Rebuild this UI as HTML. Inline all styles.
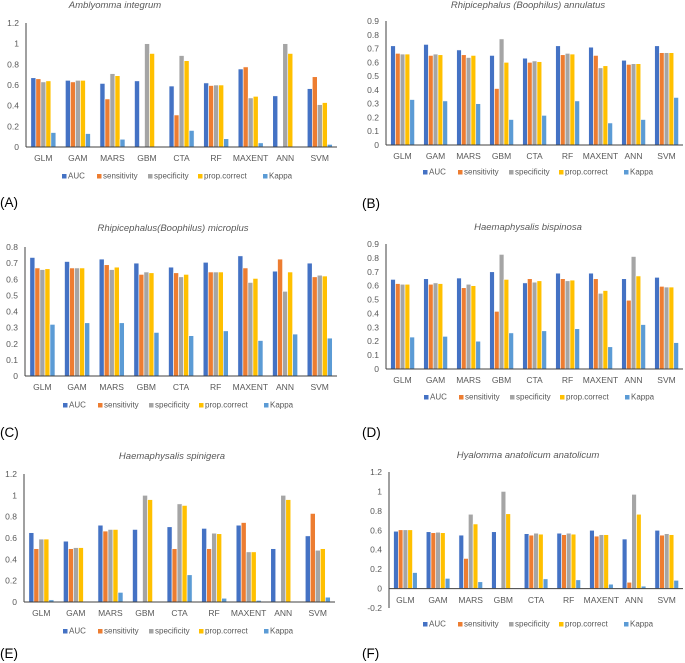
<!DOCTYPE html>
<html><head><meta charset="utf-8"><style>
body{margin:0;background:#fff}
svg{display:block;font-family:"Liberation Sans",sans-serif}
</style></head><body>
<svg id="fig" width="685" height="663" viewBox="0 0 685 663" xmlns="http://www.w3.org/2000/svg"></svg>
<script>
const categories=["GLM","GAM","MARS","GBM","CTA","RF","MAXENT","ANN","SVM"];
const seriesNames=["AUC","sensitivity","specificity","prop.correct","Kappa"];
const seriesColors=["#4472C4","#ED7D31","#A5A5A5","#FFC000","#5B9BD5"];
// values per panel: [AUC, sensitivity, specificity, prop.correct, Kappa] each over categories
const valuesA=[[.67,.645,.615,.64,.59,.62,.755,.495,.565],[.66,.63,.465,0,.31,.595,.775,0,.68],[.63,.645,.71,1,.885,.6,.475,1,.41],[.64,.645,.69,.905,.835,.6,.49,.905,.43],[.14,.13,.075,0,.16,.08,.04,0,.025]];
const valuesB=[[.72,.73,.69,.65,.63,.72,.71,.615,.72],[.665,.65,.655,.41,.6,.655,.65,.585,.67],[.66,.66,.635,.77,.61,.665,.56,.59,.67],[.66,.655,.65,.6,.605,.66,.575,.59,.67],[.33,.32,.3,.185,.215,.32,.16,.185,.345]];
const valuesC=[[.735,.71,.725,.7,.675,.705,.745,.65,.7],[.67,.67,.69,.63,.64,.645,.67,.725,.615],[.66,.67,.66,.645,.615,.645,.58,.525,.625],[.665,.67,.675,.64,.63,.645,.605,.645,.62],[.32,.33,.33,.27,.25,.28,.22,.26,.235]];
const valuesD=[[.645,.65,.655,.7,.62,.69,.69,.65,.66],[.615,.61,.585,.415,.65,.65,.65,.495,.595],[.61,.62,.61,.825,.625,.635,.545,.81,.59],[.61,.615,.6,.645,.635,.64,.565,.67,.59],[.23,.235,.2,.26,.275,.29,.16,.32,.19]];
const valuesE=[[.65,.57,.72,.68,.705,.69,.72,.5,.62],[.5,.5,.665,0,.5,.5,.745,0,.83],[.59,.51,.68,1,.92,.645,.47,1,.485],[.59,.51,.68,.96,.905,.64,.47,.96,.5],[.02,.005,.09,0,.255,.035,.015,0,.045]];
const valuesF=[[.59,.585,.55,.585,.565,.57,.6,.51,.6],[.605,.575,.31,0,.55,.555,.54,.065,.55],[.605,.58,.765,1,.57,.57,.555,.97,.565],[.605,.575,.665,.77,.56,.56,.555,.765,.555],[.165,.105,.07,0,.1,.09,.045,.025,.085]];
const ticksA=[0,0.2,0.4,0.6,0.8,1,1.2];
const ticksB=[0,0.1,0.2,0.3,0.4,0.5,0.6,0.7,0.8,0.9];
const ticksC=[0,0.1,0.2,0.3,0.4,0.5,0.6,0.7,0.8];
const ticksF=[-0.2,0,0.2,0.4,0.6,0.8,1,1.2];
const titles=["Amblyomma integrum","Rhipicephalus (Boophilus) annulatus","Rhipicephalus(Boophilus) microplus","Haemaphysalis bispinosa","Haemaphysalis spinigera","Hyalomma anatolicum anatolicum"];

const panels=[
 {id:"a",vals:valuesA,ticks:ticksA,x0:26,x1:337,yTop:23,yBot:147,yMin:0,yMax:1.2,tx:115,ty:8,cy:161,ly:178,lx:62,lab:"(A)",labx:0,laby:207},
 {id:"b",vals:valuesB,ticks:ticksB,x0:386,x1:683,yTop:21,yBot:145,yMin:0,yMax:0.9,tx:528,ty:8,cy:159,ly:174,lx:423,lab:"(B)",labx:362,laby:208},
 {id:"c",vals:valuesC,ticks:ticksC,x0:25,x1:337,yTop:247,yBot:376,yMin:0,yMax:0.8,tx:173,ty:231,cy:390,ly:407,lx:63,lab:"(C)",labx:0,laby:437},
 {id:"d",vals:valuesD,ticks:ticksB,x0:386,x1:683,yTop:244,yBot:369,yMin:0,yMax:0.9,tx:528,ty:230,cy:383,ly:399,lx:424,lab:"(D)",labx:362,laby:437},
 {id:"e",vals:valuesE,ticks:ticksA,x0:24,x1:335,yTop:474,yBot:602,yMin:0,yMax:1.2,tx:172,ty:459,cy:616,ly:633,lx:63,lab:"(E)",labx:0,laby:658},
 {id:"f",vals:valuesF,ticks:ticksF,x0:389,x1:683,yTop:472,yBot:608,yMin:-0.2,yMax:1.2,tx:528,ty:458,cy:603,ly:626,lx:423,lab:"(F)",labx:362,laby:658}
];
const NS="http://www.w3.org/2000/svg";
const svg=document.getElementById("fig");
function mk(tag,attrs,parent,text){const e=document.createElementNS(NS,tag);for(const k in attrs)e.setAttribute(k,attrs[k]);if(text!==undefined)e.textContent=text;(parent||svg).appendChild(e);return e;}
const legendOffsets=[0,35,86,136,201];
panels.forEach((p,pi)=>{
 const g=mk("g",{});
 
 
 const y=v=>p.yBot-(v-p.yMin)/(p.yMax-p.yMin)*(p.yBot-p.yTop);
 const gw=(p.x1-p.x0)/categories.length;
 const bw=gw*0.145;
 const t=mk("text",{x:p.tx,y:p.ty,"font-size":"9.5","font-style":"italic",fill:"#595959","text-anchor":"middle"},g,titles[pi]);
 
 
 p.ticks.forEach(tv=>{
  const tl=mk("text",{x:p.x0-7,y:y(tv)+3,"font-size":"8.5",fill:"#595959","text-anchor":"end"},g,String(tv));
  
  
 });
 p.vals.forEach((ser,si)=>{
  ser.forEach((v,ci)=>{
   const bx=p.x0+gw*ci+gw*0.14+si*bw;
   const y0=y(0),yv=y(v);
   const r=mk("rect",{x:bx,y:Math.min(y0,yv),width:bw,height:Math.abs(y0-yv),fill:seriesColors[si],stroke:"#fff","stroke-width":"0.6"},g);
   
   
  });
 });
 const ya=mk("line",{x1:p.x0,x2:p.x0,y1:p.yTop,y2:p.yBot,stroke:"#404040","stroke-width":"1"},g);
 
 
 const xa=mk("line",{x1:p.x0,x2:p.x1,y1:y(0),y2:y(0),stroke:"#404040","stroke-width":"1"},g);
 
 
 categories.forEach((c,ci)=>{
  const cl=mk("text",{x:p.x0+gw*(ci+0.5),y:p.cy,"font-size":"8.5",fill:"#595959","text-anchor":"middle"},g,c);
  
  
 });
 seriesNames.forEach((n,si)=>{
  const lx=p.lx+legendOffsets[si];
  const sq=mk("rect",{x:lx,y:p.ly-4,width:4.5,height:4.5,fill:seriesColors[si]},g);
  
  
  const lt=mk("text",{x:lx+6,y:p.ly+0.5,"font-size":"8",fill:"#595959"},g,n);
  
  
 });
 const pl=mk("text",{x:p.labx,y:p.laby,"font-size":"13.5",fill:"#000"},g,p.lab);
 
 
});
</script>
</body></html>
